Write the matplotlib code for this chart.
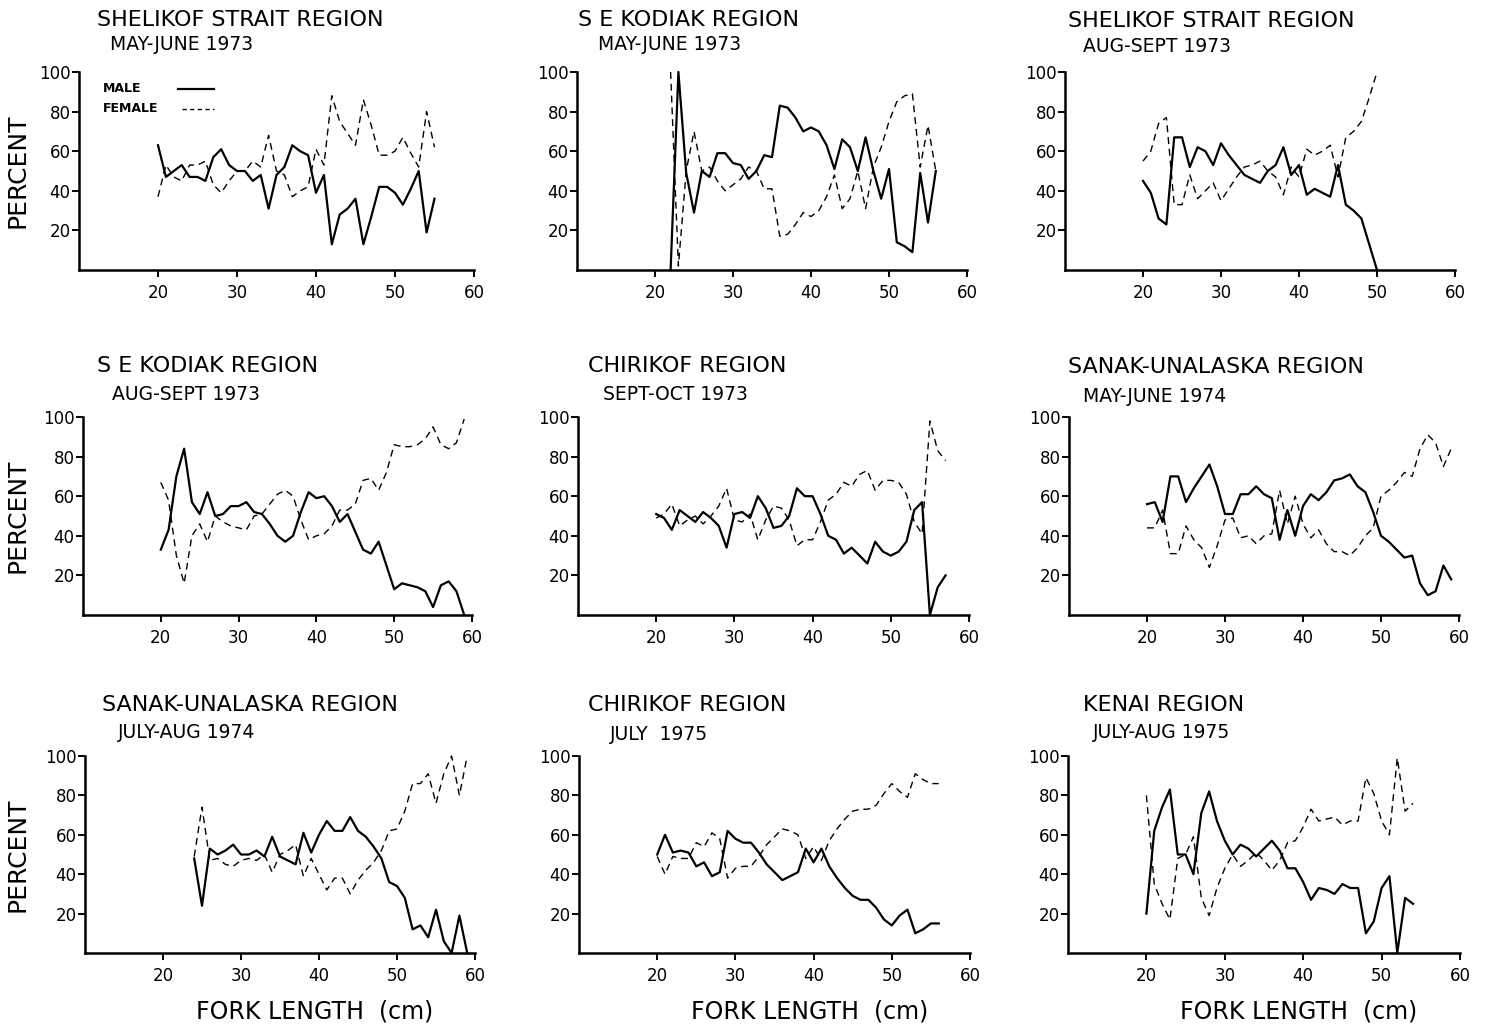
import matplotlib
matplotlib.use("Agg")
import matplotlib.pyplot as plt
from matplotlib.lines import Line2D
import numpy as np

# ---- data: percent male / female by fork length (cm) ----
titles = [
    "SHELIKOF STRAIT REGION", "S E KODIAK REGION", "SHELIKOF STRAIT REGION",
    "S E KODIAK REGION", "CHIRIKOF REGION", "SANAK-UNALASKA REGION",
    "SANAK-UNALASKA REGION", "CHIRIKOF REGION", "KENAI REGION",
]
subtitles = [
    "MAY-JUNE 1973", "MAY-JUNE 1973", "AUG-SEPT 1973",
    "AUG-SEPT 1973", "SEPT-OCT 1973", "MAY-JUNE 1974",
    "JULY-AUG 1974", "JULY  1975", "JULY-AUG 1975",
]
x_start = [20, 22, 20, 20, 20, 20, 24, 20, 20]

male1 = [63, 47, 50, 53, 47, 47, 45, 57, 61, 53, 50, 50, 45, 48, 31, 48, 52, 63,
         60, 58, 39, 48, 13, 28, 31, 36, 13, 27, 42, 42, 39, 33, 41, 50, 19, 36]
female1 = [37, 53, 47, 45, 53, 53, 55, 43, 39, 45, 50, 50, 55, 52, 68, 50, 48, 37,
           40, 42, 61, 53, 88, 75, 69, 63, 86, 73, 58, 58, 60, 67, 59, 52, 80, 62]

male2 = [0, 100, 49, 29, 50, 47, 59, 59, 54, 53, 46, 50, 58, 57, 83, 82, 77, 70,
         72, 70, 63, 51, 66, 62, 50, 67, 50, 36, 51, 14, 12, 9, 49, 24, 50]
female2 = [100, 2, 50, 70, 50, 52, 45, 40, 43, 46, 52, 50, 41, 41, 17, 18, 23, 29,
           27, 30, 37, 48, 31, 36, 50, 31, 52, 62, 75, 85, 88, 89, 52, 73, 50]

male3 = [45, 39, 26, 23, 67, 67, 52, 62, 60, 53, 64, 58, 53, 48, 46, 44, 50, 53,
         62, 48, 53, 38, 41, 39, 37, 53, 33, 30, 26, 13, 0]
female3 = [55, 60, 74, 77, 33, 33, 48, 36, 40, 44, 35, 41, 47, 52, 53, 55, 50, 47,
           38, 52, 47, 61, 58, 60, 63, 47, 67, 70, 75, 87, 100]

male4 = [33, 43, 70, 84, 57, 51, 62, 50, 51, 55, 55, 57, 52, 51, 46, 40, 37, 40,
         52, 62, 59, 60, 55, 47, 51, 42, 33, 31, 37, 25, 13, 16, 15, 14, 12, 4,
         15, 17, 12, 0]
female4 = [67, 58, 30, 16, 40, 46, 37, 50, 47, 45, 44, 43, 50, 51, 56, 61, 63, 60,
           48, 38, 40, 41, 45, 53, 53, 56, 68, 69, 63, 72, 86, 85, 85, 86, 89, 95,
           86, 84, 87, 99]

male5 = [51, 49, 43, 53, 50, 47, 52, 49, 45, 34, 51, 52, 49, 60, 54, 44, 45, 50,
         64, 60, 60, 51, 40, 38, 31, 34, 30, 26, 37, 32, 30, 32, 37, 53, 57, 0,
         14, 20]
female5 = [49, 51, 56, 45, 48, 50, 46, 50, 55, 64, 48, 47, 51, 38, 48, 55, 54, 48,
           35, 38, 38, 47, 58, 61, 67, 65, 71, 73, 63, 68, 68, 67, 61, 47, 41, 98,
           83, 78]

male6 = [56, 57, 47, 70, 70, 57, 64, 70, 76, 65, 51, 51, 61, 61, 65, 61, 59, 38,
         53, 40, 55, 61, 58, 62, 68, 69, 71, 65, 62, 52, 40, 37, 33, 29, 30, 16,
         10, 12, 25, 18]
female6 = [44, 44, 53, 31, 31, 45, 38, 34, 24, 35, 48, 49, 39, 40, 36, 40, 41, 63,
           46, 60, 46, 39, 43, 36, 32, 32, 30, 34, 40, 44, 60, 63, 67, 72, 70, 84,
           91, 87, 75, 84]

male7 = [48, 24, 53, 50, 52, 55, 50, 50, 52, 49, 59, 49, 47, 45, 61, 51, 60, 67,
         62, 62, 69, 62, 59, 54, 48, 36, 34, 28, 12, 14, 8, 22, 6, 0, 19, 0]
female7 = [49, 74, 47, 48, 45, 44, 47, 48, 47, 50, 41, 50, 52, 55, 39, 48, 40, 32,
           38, 38, 30, 37, 42, 46, 52, 62, 63, 72, 86, 86, 91, 76, 91, 100, 80, 100]

male8 = [50, 60, 51, 52, 51, 44, 46, 39, 41, 62, 58, 56, 56, 51, 45, 41, 37, 39,
         41, 53, 46, 53, 44, 38, 33, 29, 27, 27, 23, 17, 14, 19, 22, 10, 12, 15, 15]
female8 = [49, 40, 49, 48, 48, 56, 54, 61, 58, 38, 43, 44, 44, 49, 55, 59, 63, 62,
           60, 48, 54, 47, 57, 63, 68, 72, 73, 73, 75, 81, 86, 82, 79, 91, 88, 86, 86]

male9 = [20, 62, 74, 83, 50, 50, 40, 71, 82, 67, 57, 50, 55, 53, 49, 53, 57, 52,
         43, 43, 36, 27, 33, 32, 30, 35, 33, 33, 10, 16, 33, 39, 0, 28, 25]
female9 = [80, 35, 25, 17, 48, 50, 59, 28, 19, 33, 43, 50, 44, 47, 51, 47, 42, 47,
           56, 57, 64, 73, 67, 68, 69, 65, 67, 67, 89, 81, 67, 60, 99, 72, 76]

males = [male1, male2, male3, male4, male5, male6, male7, male8, male9]
females = [female1, female2, female3, female4, female5, female6, female7, female8, female9]

legend_labels = ["MALE", "FEMALE"]
x_ticks = [20, 30, 40, 50, 60]
y_ticks = [20, 40, 60, 80, 100]

# ---- layout (pixels in a 1491 x 1027 canvas) ----
W, H = 1491, 1027
col_px = [(79, 474), (577, 967), (1065, 1455),
          (83, 472), (578, 969), (1069, 1459),
          (85, 475), (579, 970), (1068, 1460)]
row_px = [(72, 270), (417, 615), (756, 953)]
title_px = [(97, 20), (578, 20), (1068, 21),
            (97, 366), (588, 366), (1068, 367),
            (102, 705), (588, 705), (1083, 705)]
sub_px = [(110, 45), (598, 45), (1083, 47),
          (112, 395), (603, 395), (1083, 396),
          (118, 732), (610, 734), (1093, 732)]

SOLID_LW = 1.6
DASH_LW = 1.0
DASHES = (5, 3.5)

plt.rcParams["font.family"] = "DejaVu Sans"

fig = plt.figure(figsize=(W / 100, H / 100), dpi=100)


def fx(px):
    return px / W


def fy(py):
    return 1 - py / H


for i in range(9):
    left, right = col_px[i]
    top, bottom = row_px[i // 3]
    ax = fig.add_axes([fx(left), fy(bottom), (right - left) / W, (bottom - top) / H])
    xs = np.arange(x_start[i], x_start[i] + len(males[i]))
    ax.plot(xs, males[i], color="black", lw=SOLID_LW, clip_on=False)
    ax.plot(xs, females[i], color="black", lw=DASH_LW, dashes=DASHES, clip_on=False)
    ax.set_xlim(10, 60)
    ax.set_ylim(0, 100)
    ax.set_xticks(x_ticks)
    ax.set_yticks(y_ticks)
    ax.tick_params(axis="both", direction="out", width=1.4, length=5,
                   labelsize=12, color="black")
    ax.tick_params(axis="y", pad=1)
    ax.tick_params(axis="x", pad=5)
    for s in ["top", "right"]:
        ax.spines[s].set_visible(False)
    for s in ["left", "bottom"]:
        ax.spines[s].set_linewidth(1.8)
    ax.patch.set_alpha(0)

    tx, ty = title_px[i]
    fig.text(fx(tx), fy(ty), titles[i], fontsize=16, va="center", ha="left")
    sx, sy = sub_px[i]
    fig.text(fx(sx), fy(sy), subtitles[i], fontsize=13.5, va="center", ha="left")

    if i % 3 == 0:
        fig.text(fx(18), fy((top + bottom) / 2), "PERCENT", rotation=90,
                 fontsize=18, va="center", ha="center")
    if i >= 6:
        fig.text(fx((left + right) / 2 + 35), fy(1012), "FORK LENGTH  (cm)",
                 fontsize=17, va="center", ha="center")

# legend keys in the first panel (text left, sample line right)
for lab, ly, dashed in zip(legend_labels, [89, 109], [False, True]):
    fig.text(fx(103), fy(ly), lab, fontsize=9, fontweight="bold",
             va="center", ha="left")
    x0 = 178 if not dashed else 182
    key = Line2D([fx(x0), fx(214)], [fy(ly), fy(ly)], color="black",
                 lw=SOLID_LW if not dashed else DASH_LW,
                 dashes=(3, 2.5) if dashed else (None, None),
                 transform=fig.transFigure)
    fig.add_artist(key)

fig.savefig("out.png", dpi=100)
